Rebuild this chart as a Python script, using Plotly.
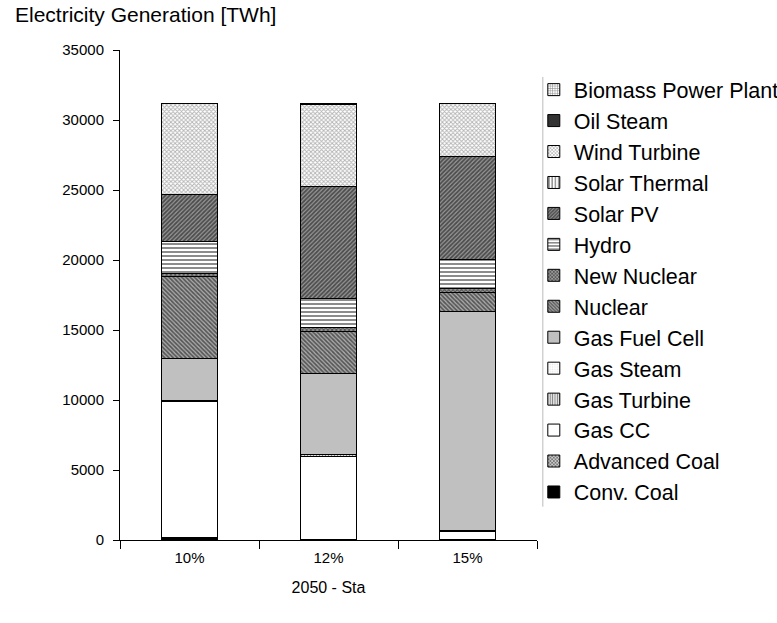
import plotly.graph_objects as go

categories = ["10%", "12%", "15%"]

# stacked from bottom to top, values in TWh
conv_coal = [200, 50, 50]
advanced_coal = [0, 0, 0]
gas_cc = [9700, 5950, 550]
gas_turbine = [100, 80, 100]
gas_steam = [0, 0, 0]
gas_fuel_cell = [3000, 5800, 15600]
nuclear = [5800, 3000, 1400]
new_nuclear = [250, 300, 250]
hydro = [2250, 2100, 2100]
solar_pv = [3350, 8000, 7350]
solar_thermal = [0, 0, 0]
wind_turbine = [6500, 5850, 3750]
oil_steam = [0, 0, 0]
biomass = [30, 30, 30]

series = [
    ("Conv. Coal", conv_coal, dict(color="black")),
    ("Advanced Coal", advanced_coal, dict(color="#777", pattern=dict(shape="x", fgcolor="black", bgcolor="#ccc", size=3, solidity=0.5))),
    ("Gas CC", gas_cc, dict(color="white")),
    ("Gas Turbine", gas_turbine, dict(color="white", pattern=dict(shape="|", fgcolor="black", bgcolor="white", size=3, solidity=0.5))),
    ("Gas Steam", gas_steam, dict(color="white", pattern=dict(shape=".", fgcolor="#ccc", bgcolor="white", size=3, solidity=0.3))),
    ("Gas Fuel Cell", gas_fuel_cell, dict(color="#c0c0c0")),
    ("Nuclear", nuclear, dict(color="#888", pattern=dict(shape="\\", fgcolor="black", bgcolor="#aaa", size=3, solidity=0.55))),
    ("New Nuclear", new_nuclear, dict(color="#555", pattern=dict(shape="x", fgcolor="black", bgcolor="#999", size=3, solidity=0.5))),
    ("Hydro", hydro, dict(color="white", pattern=dict(shape="-", fgcolor="black", bgcolor="white", size=4, solidity=0.45))),
    ("Solar PV", solar_pv, dict(color="#777", pattern=dict(shape="/", fgcolor="black", bgcolor="#999", size=3, solidity=0.6))),
    ("Solar Thermal", solar_thermal, dict(color="white", pattern=dict(shape="|", fgcolor="black", bgcolor="white", size=4, solidity=0.4))),
    ("Wind Turbine", wind_turbine, dict(color="#ccc", pattern=dict(shape="x", fgcolor="#666", bgcolor="white", size=3, solidity=0.5))),
    ("Oil Steam", oil_steam, dict(color="black", pattern=dict(shape="|", fgcolor="black", bgcolor="#444", size=2, solidity=0.5))),
    ("Biomass Power Plant", biomass, dict(color="white", pattern=dict(shape="+", fgcolor="black", bgcolor="white", size=3, solidity=0.35))),
]

fig = go.Figure()
for i, (name, vals, mk) in enumerate(series):
    mk = dict(mk, line=dict(color="black", width=1))
    fig.add_trace(go.Bar(x=categories, y=vals, name=name, marker=mk,
                         legendgroup=str(i), legendrank=100 - i))

fig.update_layout(
    barmode="stack",
    bargap=0.6,
    width=777,
    height=623,
    margin=dict(l=120, r=240, t=50, b=83, autoexpand=False),
    plot_bgcolor="white",
    paper_bgcolor="white",
    font=dict(family="Liberation Sans, Arial", size=15, color="black"),
    legend=dict(
        xref="container", yref="container",
        x=0.687, y=0.889, xanchor="left", yanchor="top",
        traceorder="grouped", tracegroupgap=0, bgcolor="rgba(0,0,0,0)",
        font=dict(size=21.5), itemwidth=30, maxheight=600,
    ),
    annotations=[
        dict(text="Electricity Generation [TWh]", xref="paper", yref="paper",
             x=-0.2566, y=1.073, xanchor="left", yanchor="middle", showarrow=False,
             font=dict(size=21)),
    ],
    shapes=[
        dict(type="line", xref="paper", yref="paper", x0=1.014, x1=1.014, y0=0.068, y1=0.945,
             line=dict(color="#bbb", width=1)),
    ],
)
fig.update_yaxes(range=[0, 35000], dtick=5000, tickformat="d", showgrid=False, showline=True,
                 linecolor="black", ticks="outside", ticklen=6, tickcolor="black",
                 zeroline=False, ticklabelstandoff=6)
fig.update_xaxes(showgrid=False, showline=True, linecolor="black", ticks="outside",
                 tickson="boundaries", ticklen=8, tickcolor="black", ticklabelstandoff=4,
                 title=dict(text="2050 - Sta", font=dict(size=16), standoff=16))

fig.write_html("out.html", config={"displayModeBar": False},
               post_script="document.body.style.margin='0';")
